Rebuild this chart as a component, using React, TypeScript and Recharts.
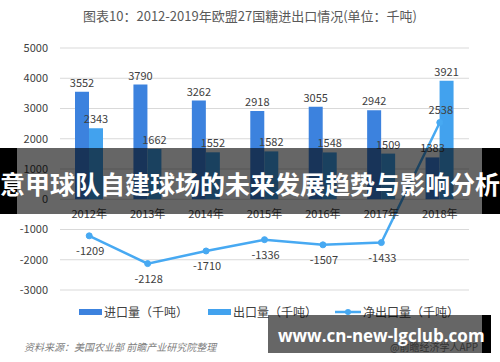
import React from 'react';
import { ComposedChart, Bar, Line, XAxis, YAxis, CartesianGrid, Legend, LabelList } from 'recharts';

const years = ['2012年', '2013年', '2014年', '2015年', '2016年', '2017年', '2018年'];
const importValues = [3552, 3790, 3262, 2918, 3055, 2942, 1383];
const exportValues = [2343, 1662, 1552, 1582, 1548, 1509, 3921];
const netExportValues = [-1209, -2128, -1710, -1336, -1507, -1433, 2538];
const yTicks = [-3000, -2000, -1000, 0, 1000, 2000, 3000, 4000, 5000];

const seriesNames = {
  imp: '进口量（千吨）',
  exp: '出口量（千吨）',
  net: '净出口量（千吨）',
};

const COLOR_IMP = '#3c82de';
const COLOR_EXP = '#42a2ee';
const COLOR_NET = '#47a9f2';
const FONT = '"Noto Sans CJK SC", "Noto Sans", sans-serif';

const data = years.map((year, i) => ({
  year,
  imp: importValues[i],
  exp: exportValues[i],
  net: netExportValues[i],
}));

const XTick = (props: any) => {
  const { x, y, payload } = props;
  return (
    <text x={x} y={y - 80} textAnchor="middle" fill="#404040" fontSize={11} fontFamily={FONT}>
      {payload.value}
    </text>
  );
};

const NetLabel = (props: any) => {
  const { x, y, value } = props;
  return (
    <text
      x={x + 1}
      y={value < 0 ? y + 19 : y - 8}
      textAnchor="middle"
      fill="#404040"
      fontSize={11}
      fontFamily={FONT}
    >
      {value}
    </text>
  );
};

const LegendContent = () => {
  const item = (icon: React.ReactNode, label: string, gap: number) => (
    <div style={{ display: 'flex', alignItems: 'center', marginRight: gap }}>
      {icon}
      <span style={{ fontSize: 12, color: '#404040', fontFamily: FONT, marginLeft: 2 }}>{label}</span>
    </div>
  );
  return (
    <div style={{ display: 'flex', justifyContent: 'flex-start', paddingLeft: 79, alignItems: 'center' }}>
      {item(<div style={{ width: 23, height: 6, background: COLOR_IMP }} />, seriesNames.imp, 20)}
      {item(<div style={{ width: 23, height: 6, background: COLOR_EXP }} />, seriesNames.exp, 18)}
      {item(
        <svg width={26} height={10}>
          <line x1={0} y1={5} x2={26} y2={5} stroke={COLOR_NET} strokeWidth={2.5} />
          <circle cx={13} cy={5} r={3} fill={COLOR_NET} />
        </svg>,
        seriesNames.net,
        0
      )}
    </div>
  );
};

export default function App() {
  return (
    <div style={{ position: 'absolute', left: 0, top: 0, width: 500, height: 362, background: '#fff', overflow: 'hidden' }}>
      <div
        style={{
          position: 'absolute',
          left: 0,
          top: 6,
          width: 500,
          textAlign: 'center',
          fontSize: 13,
          color: '#595959',
          fontFamily: FONT,
        }}
      >
        图表10：2012-2019年欧盟27国糖进出口情况(单位：千吨)
      </div>
      <ComposedChart
        width={500}
        height={362}
        data={data}
        margin={{ top: 48, right: 31, bottom: 42, left: 0 }}
        barGap={0}
        style={{ position: 'absolute', left: 0, top: 0 }}
      >
        <CartesianGrid vertical={false} stroke="#d9d9d9" />
        <XAxis
          dataKey="year"
          axisLine={false}
          tickLine={false}
          tick={<XTick />}
          height={30}
          interval={0}
        />
        <YAxis
          domain={[-3000, 5000]}
          ticks={yTicks}
          width={60}
          axisLine={false}
          tickLine={false}
          tickMargin={6}
          tick={{ fill: '#404040', fontSize: 11, fontFamily: FONT }}
        />
        <Legend
          verticalAlign="middle"
          align="center"
          wrapperStyle={{ top: 303, left: 0, width: 500 }}
          content={<LegendContent />}
        />
        <Bar dataKey="imp" name={seriesNames.imp} fill={COLOR_IMP} barSize={14} isAnimationActive={false}>
          <LabelList dataKey="imp" position="top" fill="#404040" fontSize={11} fontFamily={FONT} />
        </Bar>
        <Bar dataKey="exp" name={seriesNames.exp} fill={COLOR_EXP} barSize={14} isAnimationActive={false}>
          <LabelList dataKey="exp" position="top" fill="#404040" fontSize={11} fontFamily={FONT} />
        </Bar>
        <Line
          dataKey="net"
          name={seriesNames.net}
          stroke={COLOR_NET}
          strokeWidth={2.5}
          dot={{ r: 3, fill: COLOR_NET, stroke: COLOR_NET, strokeWidth: 1 }}
          isAnimationActive={false}
        >
          <LabelList dataKey="net" content={<NetLabel />} />
        </Line>
      </ComposedChart>
      <div
        style={{
          position: 'absolute',
          left: 24,
          top: 339,
          fontSize: 10,
          fontStyle: 'italic',
          color: '#7f7f7f',
          fontFamily: FONT,
        }}
      >
        资料来源：美国农业部 前瞻产业研究院整理
      </div>
      <div
        style={{
          position: 'absolute',
          left: 390,
          top: 339,
          fontSize: 10,
          color: '#7f7f7f',
          fontFamily: FONT,
        }}
      >
        @前瞻经济学人APP
      </div>
      {/* banner overlay */}
      <div style={{ position: 'absolute', left: 0, top: 148, width: 17, height: 66, background: '#000' }} />
      <div style={{ position: 'absolute', left: 17, top: 148, width: 465, height: 66, background: 'rgba(0,0,0,0.6)' }} />
      <div style={{ position: 'absolute', left: 482, top: 148, width: 18, height: 66, background: '#000' }} />
      <div
        style={{
          position: 'absolute',
          left: 0,
          top: 148,
          width: 500,
          height: 66,
          lineHeight: '70px',
          textAlign: 'center',
          whiteSpace: 'nowrap',
          fontSize: 25,
          fontWeight: 700,
          color: '#fff',
          fontFamily: FONT,
        }}
      >
        意甲球队自建球场的未来发展趋势与影响分析
      </div>
      {/* bottom-right overlay */}
      <div style={{ position: 'absolute', left: 268, top: 315, width: 214, height: 38, background: 'rgba(0,0,0,0.6)' }} />
      <div style={{ position: 'absolute', left: 482, top: 315, width: 9, height: 38, background: '#000' }} />
      <div
        style={{
          position: 'absolute',
          left: 278,
          top: 315,
          height: 38,
          lineHeight: '42px',
          whiteSpace: 'nowrap',
          fontSize: 17,
          fontWeight: 700,
          color: '#fff',
          fontFamily: '"Open Sans", "Noto Sans", sans-serif',
        }}
      >
        www.cn-new-lgclub.com
      </div>
    </div>
  );
}
